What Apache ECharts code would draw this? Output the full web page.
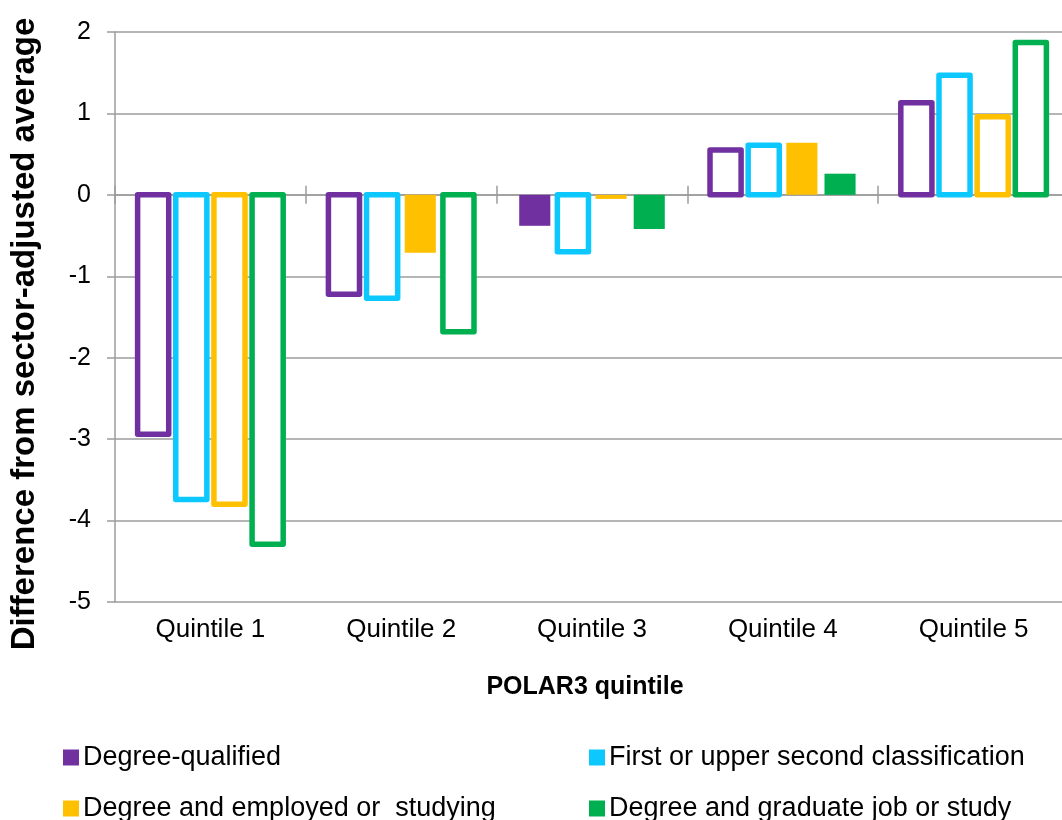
<!DOCTYPE html>
<html>
<head>
<meta charset="utf-8">
<script src="https://cdn.jsdelivr.net/npm/echarts@6/dist/echarts.min.js"></script>
<style>
  html, body { margin: 0; padding: 0; background: #fff; }
  #chart { width: 1062px; height: 820px; }
</style>
</head>
<body>
<div id="chart"></div>
<script>
// POLAR3 quintile categories
const categories = ['Quintile 1', 'Quintile 2', 'Quintile 3', 'Quintile 4', 'Quintile 5'];

// Difference from sector-adjusted average, one list per outcome
const degreeQualified    = [-2.94, -1.22, -0.38, 0.55, 1.13];
const firstOrUpperSecond = [-3.74, -1.27, -0.70, 0.61, 1.47];
const employedOrStudying = [-3.80, -0.71, -0.05, 0.64, 0.96];
const graduateJobOrStudy = [-4.29, -1.68, -0.42, 0.26, 1.87];

// Which values are drawn as solid bars (the rest are drawn hollow)
const solidDegreeQualified    = [false, false, true,  false, false];
const solidFirstOrUpperSecond = [false, false, false, false, false];
const solidEmployedOrStudying = [false, true,  true,  true,  false];
const solidGraduateJobOrStudy = [false, false, true,  true,  false];

// Value axis ticks
const yTicks = [-5, -4, -3, -2, -1, 0, 1, 2];

const seriesDefs = [
  { name: 'Degree-qualified', color: '#7030A0', values: degreeQualified, solid: solidDegreeQualified },
  { name: 'First or upper second classification', color: '#0DC8FF', values: firstOrUpperSecond, solid: solidFirstOrUpperSecond },
  { name: 'Degree and employed or  studying', color: '#FFC000', values: employedOrStudying, solid: solidEmployedOrStudying },
  { name: 'Degree and graduate job or study', color: '#00B050', values: graduateJobOrStudy, solid: solidGraduateJobOrStudy }
];

const FONT = '"Liberation Sans", Arial, sans-serif';
const GRID_GREY = '#9C9C9C';
const OUTLINE = 5.5;

// Each bar is placed from the category band and the value scale;
// hollow bars are stroked on the true value edge (stroke centred on the edge).
function makeRenderItem(slot, color) {
  return function (params, api) {
    const cat = api.value(0);
    const val = api.value(1);
    const solid = api.value(2) === 1;
    const zero = api.coord([cat, 0]);
    const end = api.coord([cat, val]);
    const band = api.size([1, 0])[0];
    const pitch = band * 0.2;
    const w = band * 0.163;
    const cx = zero[0] + (slot - 1.5) * pitch;
    const y = Math.min(zero[1], end[1]);
    const h = Math.abs(end[1] - zero[1]);
    return {
      type: 'rect',
      shape: { x: cx - w / 2, y: y, width: w, height: h },
      style: solid
        ? { fill: color }
        : { fill: '#ffffff', stroke: color, lineWidth: OUTLINE, lineJoin: 'round' }
    };
  };
}

const series = seriesDefs.map((s, k) => ({
  name: s.name,
  type: 'custom',
  xAxisIndex: 0,
  yAxisIndex: 0,
  itemStyle: { color: s.color },
  renderItem: makeRenderItem(k, s.color),
  encode: { x: 0, y: 1 },
  data: s.values.map((v, i) => [i, v, s.solid[i] ? 1 : 0]),
  clip: false,
  silent: true
}));

// one legend block per entry, laid out as two columns
const legendPos = [
  { left: 63, top: 744 },
  { left: 589, top: 744 },
  { left: 63, top: 795 },
  { left: 589, top: 795 }
];
const legends = seriesDefs.map((s, i) => ({
  data: [s.name],
  left: legendPos[i].left,
  top: legendPos[i].top,
  padding: 0,
  icon: 'rect',
  itemWidth: 16,
  itemHeight: 16,
  itemGap: 0,
  selectedMode: false,
  textStyle: { fontFamily: FONT, fontSize: 27, color: '#000', padding: [0, 0, 0, -1] }
}));

const chart = echarts.init(document.getElementById('chart'), null, { renderer: 'canvas' });

chart.setOption({
  animation: false,
  backgroundColor: '#ffffff',
  grid: { left: 115, top: 32, width: 954, height: 570, containLabel: false, outerBoundsMode: 'none' },
  legend: legends,
  graphic: [{
    type: 'text',
    x: 25,
    y: 334,
    rotation: Math.PI / 2,
    style: {
      text: 'Difference from sector-adjusted average',
      font: 'bold 33px "Liberation Sans", Arial, sans-serif',
      fill: '#000',
      align: 'center',
      verticalAlign: 'middle'
    }
  }],
  xAxis: [
    {
      // category labels along the bottom edge of the plot
      type: 'category',
      data: categories,
      position: 'bottom',
      axisLine: { show: false, onZero: false },
      axisTick: { show: false },
      axisLabel: { color: '#000', fontFamily: FONT, fontSize: 26, margin: 15 },
      name: 'POLAR3 quintile',
      nameLocation: 'middle',
      nameGap: 73,
      nameTextStyle: { color: '#000', fontFamily: FONT, fontSize: 25, fontWeight: 'bold', padding: [0, 14, 0, 0] }
    },
    {
      // baseline at zero, ticks below
      type: 'category',
      data: categories,
      position: 'bottom',
      axisLine: { show: true, onZero: true, onZeroAxisIndex: 0, lineStyle: { color: GRID_GREY, width: 1.5 } },
      axisTick: { show: true, inside: false, length: 9, lineStyle: { color: GRID_GREY, width: 1.5 } },
      axisLabel: { show: false }
    },
    {
      // baseline at zero, ticks above
      type: 'category',
      data: categories,
      position: 'bottom',
      axisLine: { show: false, onZero: true, onZeroAxisIndex: 0 },
      axisTick: { show: true, inside: true, length: 9, lineStyle: { color: GRID_GREY, width: 1.5 } },
      axisLabel: { show: false }
    }
  ],
  yAxis: {
    type: 'value',
    min: yTicks[0],
    max: yTicks[yTicks.length - 1],
    interval: 1,
    axisLine: { show: true, lineStyle: { color: GRID_GREY, width: 1.5 } },
    axisTick: { show: true, length: 8, lineStyle: { color: GRID_GREY, width: 1.5 } },
    splitLine: { show: true, lineStyle: { color: GRID_GREY, width: 1.5 } },
    axisLabel: {
      color: '#000', fontFamily: FONT, fontSize: 25, margin: 24,
      formatter: v => String(v).replace('\u2212', '-')
    }
  },
  series: series
});
</script>
</body>
</html>
